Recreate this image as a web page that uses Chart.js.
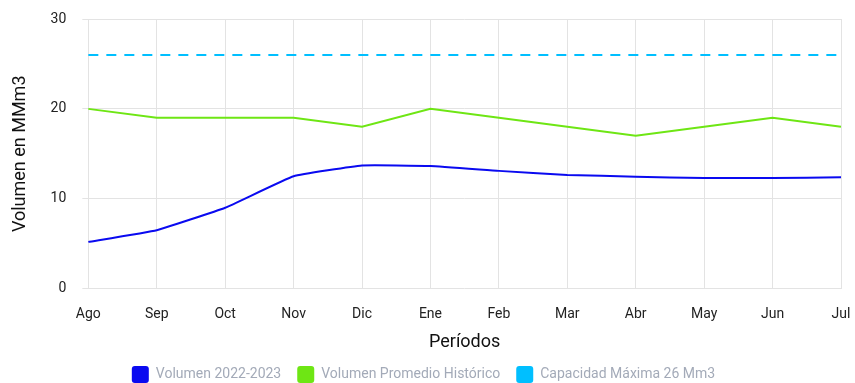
<!DOCTYPE html>
<html>
<head>
<meta charset="utf-8">
<script src="https://cdn.jsdelivr.net/npm/chart.js@4/dist/chart.umd.min.js"></script>
<style>
    html, body { margin: 0; padding: 0; background: #FFFFFF; }
    #wrap { width: 855px; height: 383px; position: relative; }
</style>
</head>
<body>
<div id="wrap"><canvas id="graph_volumen"></canvas></div>
<script>
var LABELS_PERIODOS                 = ['Ago', 'Sep', 'Oct', 'Nov', 'Dic', 'Ene', 'Feb', 'Mar', 'Abr', 'May', 'Jun', 'Jul'];

var volumen_actual                  = [5.2, 6.5, 9.0, 12.5, 13.7, 13.65, 13.1, 12.65, 12.45, 12.3, 12.3, 12.4];
var volumen_promedio                = [20, 19, 19, 19, 18, 20, 19, 18, 17, 18, 19, 18];
var capacidad_maxima                = [26, 26, 26, 26, 26, 26, 26, 26, 26, 26, 26, 26];

var Y_TICKS                         = [0, 10, 20, 30];

Chart.defaults.font.family          = 'Roboto, sans-serif';



// legend boxes stay solid, even for the dashed capacity line
function graph_legend_labels(chart) {

    var items = Chart.defaults.plugins.legend.labels.generateLabels(chart);

    items.forEach(function(item) {
        item.lineDash = [];
        item.lineWidth = 0;
    });

    return items;
}



function graph_create() {

    var canvas = document.getElementById('graph_volumen');

    return new Chart(canvas, {
        type: 'line',
        data: {
            labels: LABELS_PERIODOS,
            datasets: [
                {
                    label: 'Volumen 2022-2023',
                    data: volumen_actual,
                    borderColor: '#0A0AF0',
                    backgroundColor: '#0A0AF0',
                    borderWidth: 2,
                    pointRadius: 0,
                    tension: 0.1,
                },
                {
                    label: 'Volumen Promedio Histórico',
                    data: volumen_promedio,
                    borderColor: '#6EE614',
                    backgroundColor: '#6EE614',
                    borderWidth: 2,
                    pointRadius: 0,
                    tension: 0,
                },
                {
                    label: 'Capacidad Máxima 26 Mm3',
                    data: capacidad_maxima,
                    borderColor: '#00BFFF',
                    backgroundColor: '#00BFFF',
                    borderWidth: 2,
                    borderDash: [10, 8],
                    pointRadius: 0,
                    tension: 0,
                },
            ]
        },
        options: {
            responsive: true,
            maintainAspectRatio: false,
            animation: false,
            layout: {
                padding: { top: 19, right: 14, left: 6, bottom: -10 }
            },
            scales: {
                y: {
                    min: 0,
                    max: 30,
                    afterBuildTicks: function(axis) { axis.ticks = Y_TICKS.map(function(v) { return { value: v }; }); },
                    // the tick padding should not push the plot area down
                    afterFit: function(axis) { axis.paddingTop = 0; },
                    ticks: {
                        color: '#222222',
                        padding: 16,
                        font: { size: 14 }
                    },
                    grid: {
                        color: '#E3E3E3',
                        lineWidth: 1,
                        tickLength: 6,
                    },
                    border: { display: false },
                    title: {
                        display: true,
                        text: 'Volumen en MMm3',
                        color: '#111111',
                        font: { size: 18 },
                        padding: { bottom: 3 }
                    }
                },
                x: {
                    afterFit: function(axis) { axis.paddingRight = 0; },
                    ticks: {
                        color: '#222222',
                        padding: 17,
                        font: { size: 14 }
                    },
                    grid: {
                        color: '#E3E3E3',
                        lineWidth: 1,
                        tickLength: 0,
                    },
                    border: { display: false },
                    title: {
                        display: true,
                        text: 'Períodos',
                        color: '#111111',
                        font: { size: 18 },
                        padding: { top: -8, bottom: -3 }
                    }
                }
            },
            plugins: {
                legend: {
                    position: 'bottom',
                    labels: {
                        color: '#A3AAB8',
                        boxWidth: 17,
                        boxHeight: 17,
                        useBorderRadius: true,
                        borderRadius: 3,
                        padding: 16,
                        font: { size: 14 },
                        generateLabels: graph_legend_labels
                    }
                },
                tooltip: { enabled: false }
            }
        }
    });
}

graph_create();
</script>
</body>
</html>
